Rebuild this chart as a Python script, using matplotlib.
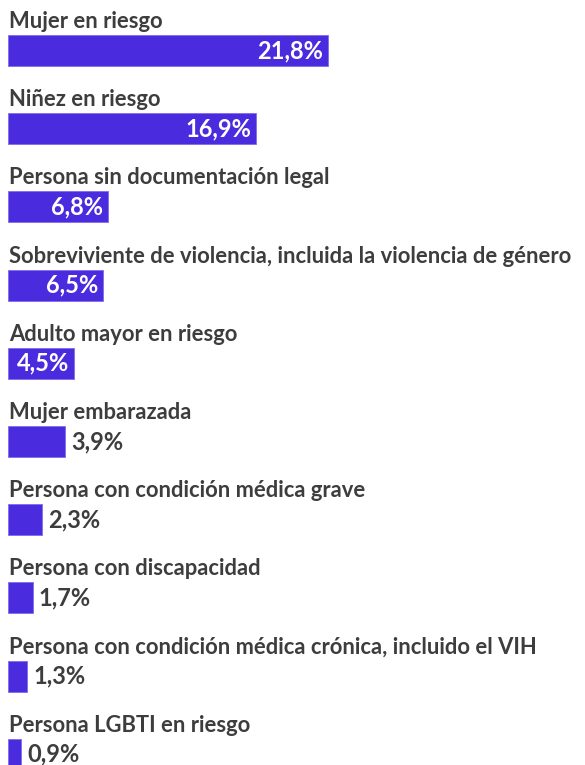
import matplotlib
matplotlib.use("Agg")
import matplotlib.pyplot as plt

categories = [
    "Mujer en riesgo",
    "Niñez en riesgo",
    "Persona sin documentación legal",
    "Sobreviviente de violencia, incluida la violencia de género",
    "Adulto mayor en riesgo",
    "Mujer embarazada",
    "Persona con condición médica grave",
    "Persona con discapacidad",
    "Persona con condición médica crónica, incluido el VIH",
    "Persona LGBTI en riesgo",
]
values = [21.8, 16.9, 6.8, 6.5, 4.5, 3.9, 2.3, 1.7, 1.3, 0.9]
value_labels = ["21,8%", "16,9%", "6,8%", "6,5%", "4,5%", "3,9%", "2,3%", "1,7%", "1,3%", "0,9%"]

BAR = "#4B2BDE"
TXT = "#3d3d3d"
W, H = 585, 765
fig = plt.figure(figsize=(W / 100, H / 100), dpi=100)
ax = fig.add_axes([0, 0, 1, 1])
px_per = 320 / 21.8
left = 8
ax.set_xlim(-left / px_per, (W - left) / px_per)
ax.set_ylim(H, 0)
ax.axis("off")

font = "Lato"
step = 78.2
y0 = 50.5
bar_h = 31
for i, (c, v, lab) in enumerate(zip(categories, values, value_labels)):
    y = y0 + i * step
    ax.barh(y, v, height=bar_h, left=0, color=BAR, edgecolor="#7f6cf0", linewidth=0.6)
    ax.text(0.05, y - bar_h / 2 - 7, c, ha="left", va="baseline", fontsize=15.8,
            fontweight="bold", color=TXT, family=font)
    if v >= 4.5:
        ax.text(v - 5 / px_per, y + 7.5, lab, ha="right", va="baseline", fontsize=17,
                fontweight="bold", color="white", family=font)
    else:
        ax.text(v + 6 / px_per, y + 7.5, lab, ha="left", va="baseline", fontsize=17,
                fontweight="bold", color=TXT, family=font)

fig.savefig("out.png", dpi=100)
